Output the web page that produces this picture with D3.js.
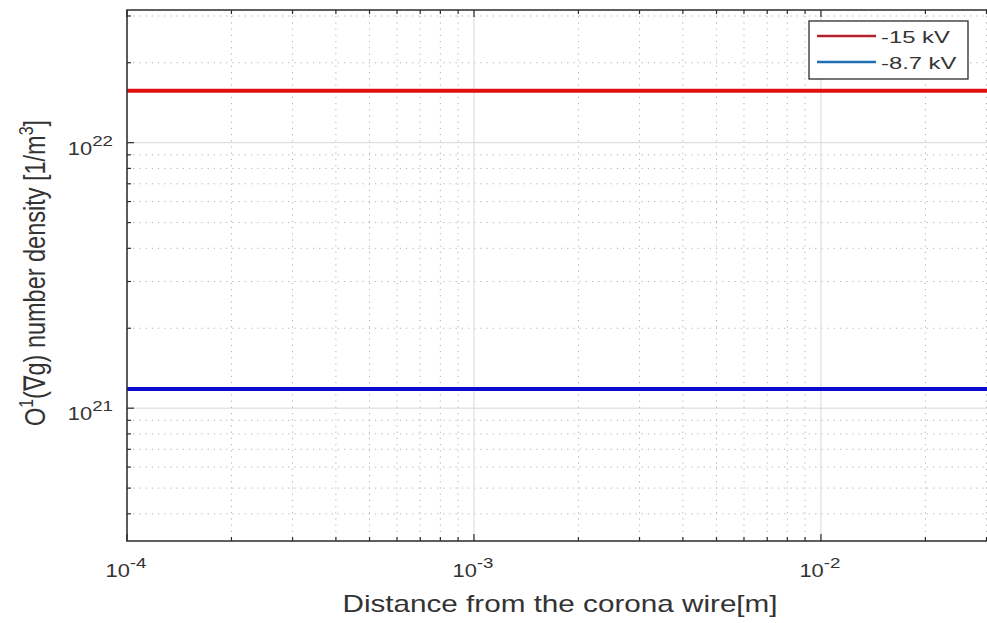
<!DOCTYPE html>
<html>
<head>
<meta charset="utf-8">
<script src="https://cdn.jsdelivr.net/npm/d3@7/dist/d3.min.js"></script>
<style>
  html, body { margin: 0; padding: 0; background: #fff; overflow: hidden; }
  svg { display: block; font-family: "Liberation Sans", Arial, sans-serif; }
</style>
</head>
<body>
<svg id="chart" width="987" height="623"></svg>
<script>
// Distance range along the wire axis [m]
const xDomain = [1e-4, 0.0303];
// Number density range [1/m^3]
const yDomain = [3.16e20, 3.16e22];

// Series: constant O1(∇g) density for each corona voltage
const seriesNames = ["-15 kV", "-8.7 kV"];
const seriesDensity = [1.57e22, 1.18e21];
const seriesLineColors = ["#e01010", "#0a0ad0"];
const seriesLegendColors = ["#b3202e", "#1f6fb2"];
const distanceSamples = [1e-4, 3e-4, 1e-3, 3e-3, 1e-2, 0.0303];

const xMajorTicks = [1e-4, 1e-3, 1e-2];
const xMajorExp = ["-4", "-3", "-2"];
const yMajorTicks = [1e21, 1e22];
const yMajorExp = ["21", "22"];

const svg = d3.select("#chart");
const plotLeft = 127, plotRight = 988, plotTop = 10, plotBottom = 541;

const x = d3.scaleLog().domain(xDomain).range([plotLeft, plotRight]);
const y = d3.scaleLog().domain(yDomain).range([plotBottom, plotTop]);

function logTicks(domain) {
  const out = [];
  const lo = Math.floor(Math.log10(domain[0])), hi = Math.ceil(Math.log10(domain[1]));
  for (let e = lo; e <= hi; e++) {
    for (let m = 1; m <= 9; m++) {
      const v = m * Math.pow(10, e);
      if (v >= domain[0] * 0.999 && v <= domain[1] * 1.001) out.push({ v, major: m === 1 });
    }
  }
  return out;
}
const xt = logTicks(xDomain);
const yt = logTicks(yDomain);

const grid = svg.append("g");
// minor grid (dotted)
grid.selectAll(".xmin").data(xt.filter(d => !d.major)).join("line")
  .attr("x1", d => x(d.v)).attr("x2", d => x(d.v)).attr("y1", plotTop).attr("y2", plotBottom)
  .attr("stroke", "#b0b0b0").attr("stroke-width", 1).attr("stroke-dasharray", "1.2,5");
grid.selectAll(".ymin").data(yt.filter(d => !d.major)).join("line")
  .attr("y1", d => y(d.v)).attr("y2", d => y(d.v)).attr("x1", plotLeft).attr("x2", plotRight)
  .attr("stroke", "#b0b0b0").attr("stroke-width", 1).attr("stroke-dasharray", "1.2,5");
// major grid (solid)
grid.selectAll(".xmaj").data(xMajorTicks).join("line")
  .attr("x1", d => x(d)).attr("x2", d => x(d)).attr("y1", plotTop).attr("y2", plotBottom)
  .attr("stroke", "#d8d8d8").attr("stroke-width", 1);
grid.selectAll(".ymaj").data(yMajorTicks).join("line")
  .attr("y1", d => y(d)).attr("y2", d => y(d)).attr("x1", plotLeft).attr("x2", plotRight)
  .attr("stroke", "#d8d8d8").attr("stroke-width", 1);

// data lines
const line = d3.line().x(d => x(d[0])).y(d => y(d[1]));
seriesDensity.forEach((val, i) => {
  svg.append("path")
    .datum(distanceSamples.map(d => [d, val]))
    .attr("d", line)
    .attr("fill", "none")
    .attr("stroke", seriesLineColors[i])
    .attr("stroke-width", 4);
});

// axes box with inward ticks
const axisColor = "#2b2b2b";
const ax = svg.append("g");
ax.append("rect").attr("x", plotLeft).attr("y", plotTop)
  .attr("width", plotRight - plotLeft).attr("height", plotBottom - plotTop)
  .attr("fill", "none").attr("stroke", axisColor).attr("stroke-width", 1.5);
xt.forEach(d => {
  const len = d.major ? 7 : 4;
  ax.append("line").attr("x1", x(d.v)).attr("x2", x(d.v)).attr("y1", plotBottom).attr("y2", plotBottom - len)
    .attr("stroke", axisColor).attr("stroke-width", 1.2);
  ax.append("line").attr("x1", x(d.v)).attr("x2", x(d.v)).attr("y1", plotTop).attr("y2", plotTop + len)
    .attr("stroke", axisColor).attr("stroke-width", 1.2);
});
yt.forEach(d => {
  const len = d.major ? 7 : 4;
  ax.append("line").attr("y1", y(d.v)).attr("y2", y(d.v)).attr("x1", plotLeft).attr("x2", plotLeft + len)
    .attr("stroke", axisColor).attr("stroke-width", 1.2);
});

// Text is drawn slightly wide (horizontal stretch) about its anchor point
const textColor = "#333";
function stretchedText(px, py, sx, anchor, size) {
  return svg.append("g").attr("transform", `translate(${px},${py}) scale(${sx},1)`)
    .append("text").attr("x", 0).attr("y", 0).attr("text-anchor", anchor)
    .attr("fill", textColor).attr("font-size", size);
}

// tick labels: 10 with superscript exponent
xMajorTicks.forEach((v, i) => {
  const t = stretchedText(x(v) - 1, 577, 1.25, "middle", 17.5);
  t.append("tspan").text("10");
  t.append("tspan").attr("dy", -9).attr("font-size", 15).text(xMajorExp[i]);
});
yMajorTicks.forEach((v, i) => {
  const t = stretchedText(plotLeft - 14, y(v) + 12, 1.25, "end", 17.5);
  t.append("tspan").text("10");
  t.append("tspan").attr("dy", -9).attr("font-size", 15).text(yMajorExp[i]);
});

// axis titles
stretchedText(560, 612, 1.29, "middle", 23).text("Distance from the corona wire[m]");

const yl = svg.append("g").attr("transform", "translate(45,273) scale(1.29,1) rotate(-90)")
  .append("text").attr("text-anchor", "middle").attr("fill", textColor).attr("font-size", 23.5);
yl.append("tspan").text("O");
yl.append("tspan").attr("dy", -9).attr("font-size", 16).text("1");
yl.append("tspan").attr("dy", 9).text("(∇g) number density [1/m");
yl.append("tspan").attr("dy", -9).attr("font-size", 16).text("3");
yl.append("tspan").attr("dy", 9).text("]");

// legend
const lg = svg.append("g");
lg.append("rect").attr("x", 809).attr("y", 21).attr("width", 159).attr("height", 58)
  .attr("fill", "#fff").attr("stroke", axisColor).attr("stroke-width", 1.3);
seriesNames.forEach((name, i) => {
  const cy = 36 + i * 26;
  lg.append("line").attr("x1", 817).attr("x2", 876).attr("y1", cy).attr("y2", cy)
    .attr("stroke", seriesLegendColors[i]).attr("stroke-width", 2.5);
  stretchedText(881, cy + 7, 1.4, "start", 17).text(name);
});
</script>
</body>
</html>
